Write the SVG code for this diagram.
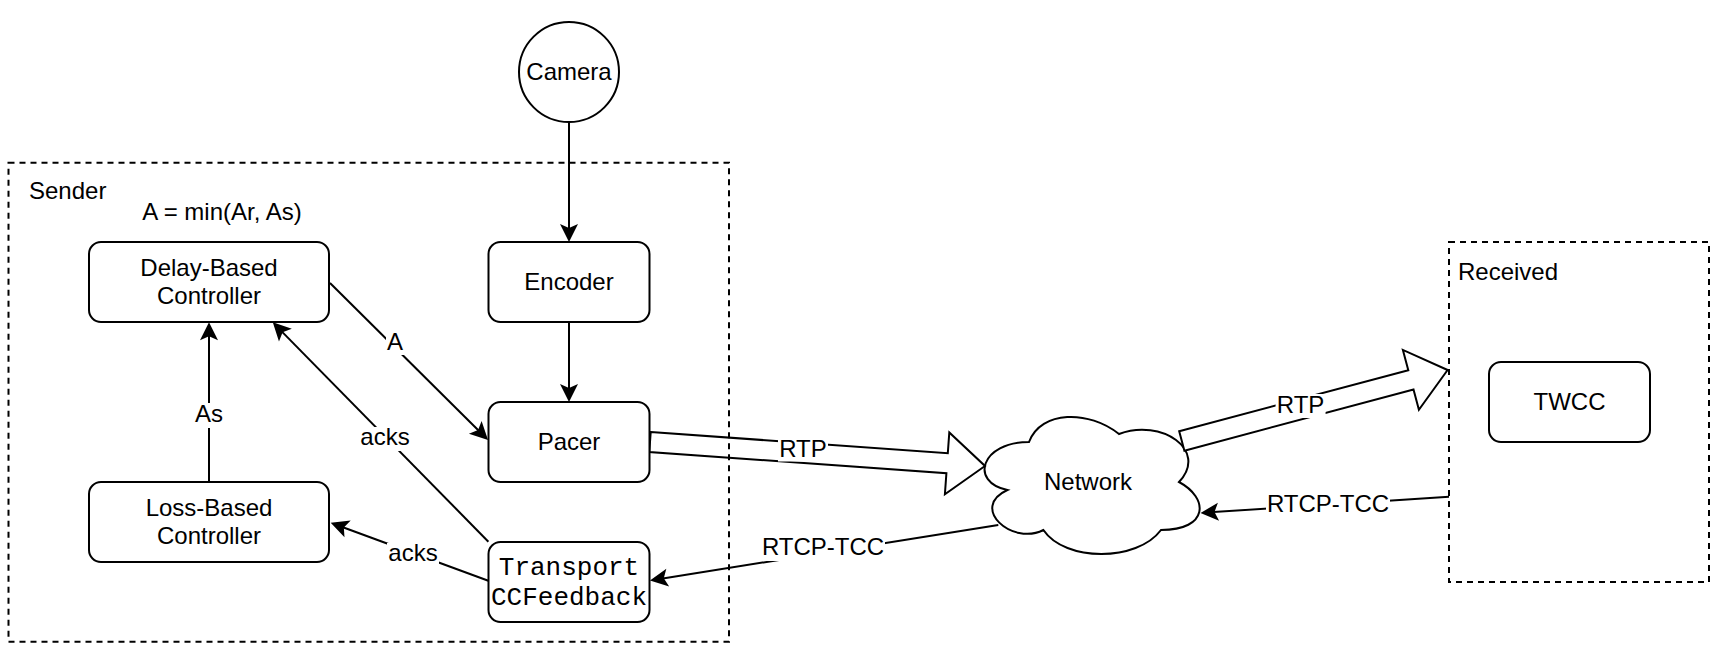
<svg xmlns="http://www.w3.org/2000/svg" width="1726" height="660" viewBox="0 0 1726 660">
<style>
.box{fill:#fff;stroke:#000;stroke-width:2}
.cont{fill:none;stroke:#000;stroke-width:2;stroke-dasharray:6 5}
.t{font-family:"Liberation Sans",Arial,Helvetica,sans-serif;font-size:24px;fill:#000;text-anchor:middle}
.tl{font-family:"Liberation Sans",Arial,Helvetica,sans-serif;font-size:24px;fill:#000}
.mono{font-family:"Liberation Mono","Courier New",monospace;font-size:26px;fill:#000;text-anchor:middle}
.edge{fill:none;stroke:#000;stroke-width:2}
.flat{fill:#fff;stroke:#000;stroke-width:2;stroke-linejoin:miter}
.bg{fill:#fff}
</style>
<defs>
<marker id="arr" markerUnits="userSpaceOnUse" markerWidth="20" markerHeight="20" viewBox="-6 -10 20 20" refX="0" refY="0" orient="auto">
<path d="M13,0 L-5,-9 L-1,0 L-5,9 Z" fill="#000"/>
</marker>
</defs>
<rect width="1726" height="660" fill="#fff"/>

<g id="network">
<path class="box" d="M1029,442 C981,442 969,482 1007.4,490 C969,507.6 1012.2,546 1043.4,530 C1065,562 1137,562 1161,530 C1209,530 1209,498 1179,482 C1209,450 1161,418 1119,434 C1089,410 1041,410 1029,442 Z"/>
<text class="t" x="1088" y="490">Network</text>
</g>

<g id="connectors">
<line class="edge" x1="569" y1="122" x2="569" y2="229" marker-end="url(#arr)"/>
<line class="edge" x1="569" y1="322" x2="569" y2="389" marker-end="url(#arr)"/>
<line class="edge" x1="330" y1="283" x2="478.8" y2="430.8" marker-end="url(#arr)"/>
<line class="edge" x1="488.4" y1="541.7" x2="281.9" y2="331.6" marker-end="url(#arr)"/>
<line class="edge" x1="488.3" y1="580.7" x2="342.9" y2="527.2" marker-end="url(#arr)"/>
<line class="edge" x1="209" y1="482" x2="209" y2="335.3" marker-end="url(#arr)"/>
<line class="edge" x1="1449" y1="496.7" x2="1213.5" y2="512.1" marker-end="url(#arr)"/>
<line class="edge" x1="998.3" y1="525" x2="662.8" y2="578.5" marker-end="url(#arr)"/>
<polygon class="flat" points="650.7,432 947.8,453.3 949.3,432.4 985,466 944.9,494.2 946.4,473.3 649.3,452"/>
<polygon class="flat" points="1179.2,431.3 1408.3,370.2 1402.9,349.9 1447.6,370 1418.9,409.8 1413.5,389.5 1184.4,450.7"/>
<rect class="bg" x="386" y="331" width="18" height="24"/>
<text class="t" x="395" y="349.5">A</text>
<rect class="bg" x="359" y="427" width="52" height="24"/>
<text class="t" x="385" y="445">acks</text>
<rect class="bg" x="387" y="543" width="52" height="24"/>
<text class="t" x="413" y="561">acks</text>
<rect class="bg" x="193" y="403" width="32" height="25"/>
<text class="t" x="209" y="422">As</text>
<rect class="bg" x="778" y="438.5" width="50" height="23"/>
<text class="t" x="803" y="456.7">RTP</text>
<rect class="bg" x="761" y="537" width="124" height="24"/>
<text class="t" x="823" y="555">RTCP-TCC</text>
<rect class="bg" x="1275.6" y="394" width="50" height="24"/>
<text class="t" x="1300.6" y="412.7">RTP</text>
<rect class="bg" x="1266" y="493" width="124" height="24"/>
<text class="t" x="1328" y="511.7">RTCP-TCC</text>
</g>

<g id="sender">
<rect class="cont" x="8.5" y="162.7" width="720.5" height="479"/>
<text class="tl" x="29" y="199.3">Sender</text>
</g>
<g id="receiver">
<rect class="cont" x="1449" y="242" width="260" height="340"/>
<text class="tl" x="1458" y="280">Received</text>
</g>

<g id="formula">
<text class="t" x="222" y="219.5">A = min(Ar, As)</text>
</g>

<g id="camera">
<circle class="box" cx="569" cy="72" r="50"/>
<text class="t" x="569" y="80">Camera</text>
</g>

<g id="delay-controller">
<rect class="box" x="89" y="242" width="240" height="80" rx="12"/>
<text class="t" x="209" y="275.5">Delay-Based</text>
<text class="t" x="209" y="304">Controller</text>
</g>

<g id="loss-controller">
<rect class="box" x="89" y="482" width="240" height="80" rx="12"/>
<text class="t" x="209" y="515.5">Loss-Based</text>
<text class="t" x="209" y="544">Controller</text>
</g>

<g id="encoder">
<rect class="box" x="488.5" y="242" width="161" height="80" rx="12"/>
<text class="t" x="569" y="290">Encoder</text>
</g>

<g id="pacer">
<rect class="box" x="488.5" y="402" width="161" height="80" rx="12"/>
<text class="t" x="569" y="450">Pacer</text>
</g>

<g id="transport-cc-feedback">
<rect class="box" x="488.5" y="542" width="161" height="80" rx="12"/>
<text class="mono" x="569" y="575">Transport</text>
<text class="mono" x="569" y="605">CCFeedback</text>
</g>

<g id="twcc">
<rect class="box" x="1489" y="362" width="161" height="80" rx="12"/>
<text class="t" x="1569.5" y="410">TWCC</text>
</g>
</svg>
